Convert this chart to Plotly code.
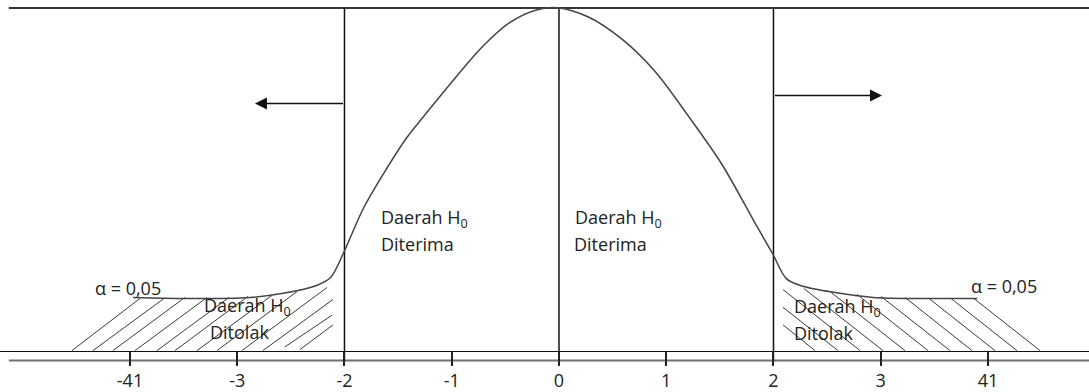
import plotly.graph_objects as go

# tick positions and their printed labels
tick_vals = [-4, -3, -2, -1, 0, 1, 2, 3, 4]
tick_text = ["-41", "-3", "-2", "-1", "0", "1", "2", "3", "41"]

# hand-drawn bell curve (peak = 1)
curve_x = [-3.97, -3.47, -2.88, -2.57, -2.26, -2.13, -2.01, -1.83, -1.64, -1.42,
           -1.20, -0.95, -0.71, -0.46, -0.21, 0.0, 0.27, 0.59, 0.90, 1.20,
           1.52, 1.83, 1.99, 2.12, 2.25, 2.56, 2.93, 3.39, 3.90]
curve_y = [0.155, 0.152, 0.155, 0.167, 0.190, 0.213, 0.284, 0.411, 0.514, 0.621,
           0.707, 0.802, 0.888, 0.957, 0.994, 1.0, 0.974, 0.908, 0.813, 0.687,
           0.543, 0.371, 0.284, 0.210, 0.190, 0.170, 0.155, 0.152, 0.152]

# critical values / centre
boundary_x = [-2, 0, 2]
top_y = 1.0
bottom_y = -0.032

# hatching of the rejection areas (start / end of each stroke)
hatch_left_x0 = [-4.541, -4.345, -4.159, -3.953, -3.748, -3.580, -3.375, -3.189,
                 -2.956, -2.760, -2.555, -2.415]
hatch_left_y0 = [0, 0, 0, 0, 0, 0, 0, 0, 0, 0, 0.011, 0.003]
hatch_left_x1 = [-3.907, -3.683, -3.487, -3.282, -3.077, -2.900, -2.676, -2.443,
                 -2.163, -2.107, -2.117, -2.107]
hatch_left_y1 = [0.152, 0.152, 0.155, 0.155, 0.155, 0.158, 0.161, 0.172,
                 0.184, 0.149, 0.103, 0.075]

hatch_right_x0 = [4.485, 4.270, 4.065, 3.851, 3.646, 3.441, 3.226, 3.021,
                  2.807, 2.601, 2.387]
hatch_right_y0 = [0, 0, 0, 0, 0, 0, 0, 0, 0, 0, 0]
hatch_right_x1 = [3.869, 3.655, 3.450, 3.226, 3.002, 2.779, 2.536, 2.284,
                  2.089, 2.089, 2.089]
hatch_right_y1 = [0.152, 0.152, 0.152, 0.155, 0.158, 0.164, 0.170, 0.181,
                  0.178, 0.126, 0.075]

# text labels
label_text = ["Daerah H<sub>0</sub>", "Diterima", "Daerah H<sub>0</sub>", "Diterima",
              "Daerah H<sub>0</sub>", "Ditolak", "Daerah H<sub>0</sub>", "Ditolak",
              "\u03b1 = 0,05", "\u03b1 = 0,05"]
label_x = [-1.678, -1.678, 0.131, 0.122, -3.329, -3.273, 2.172, 2.172, -4.345, 3.823]
label_y = [0.385, 0.310, 0.385, 0.310, 0.128, 0.054, 0.125, 0.051, 0.184, 0.187]

# direction arrows (start at critical line, tip outward)
arrow_x0 = [-2, 2]
arrow_x1 = [-2.835, 3.012]
arrow_y = [0.721, 0.744]

FONT = "Open Sans, Noto Sans, sans-serif"
INK = "#222222"


def segments(x0, y0, x1, y1):
    xs, ys = [], []
    for a, b, c, d in zip(x0, y0, x1, y1):
        xs += [a, c, None]
        ys += [b, d, None]
    return xs, ys


fig = go.Figure()

# hatching
for x0, y0, x1, y1 in [
    (hatch_left_x0, hatch_left_y0, hatch_left_x1, hatch_left_y1),
    (hatch_right_x0, hatch_right_y0, hatch_right_x1, hatch_right_y1),
]:
    hx, hy = segments(x0, y0, x1, y1)
    fig.add_trace(go.Scatter(x=hx, y=hy, mode="lines",
                             line=dict(color="#3a3a3a", width=1),
                             hoverinfo="skip"))

# second (gray) base line and top border line
fig.add_trace(go.Scatter(x=[-5.13, 5.0], y=[-0.0287, -0.0287], mode="lines",
                         line=dict(color="#707070", width=2), hoverinfo="skip"))
fig.add_trace(go.Scatter(x=[-5.13, 5.0], y=[top_y, top_y], mode="lines",
                         line=dict(color="#383838", width=2), hoverinfo="skip"))

# vertical lines at -2, 0, 2
vx, vy = segments(boundary_x, [top_y] * 3, boundary_x, [bottom_y] * 3)
fig.add_trace(go.Scatter(x=vx, y=vy, mode="lines",
                         line=dict(color="#111111", width=1.5), hoverinfo="skip"))

# the curve
fig.add_trace(go.Scatter(x=curve_x, y=curve_y, mode="lines",
                         line=dict(color="#444444", width=1.5, shape="spline",
                                   smoothing=0.9),
                         hoverinfo="skip"))

for t, x, y in zip(label_text, label_x, label_y):
    fig.add_annotation(x=x, y=y, text=t, showarrow=False, xanchor="left",
                       yanchor="middle", font=dict(family=FONT, size=18, color=INK))

for x0, x1, y in zip(arrow_x0, arrow_x1, arrow_y):
    fig.add_annotation(x=x1, y=y, ax=x0, ay=y, axref="x", ayref="y", text="",
                       showarrow=True, arrowhead=2, arrowsize=1.6, arrowwidth=1.5,
                       arrowcolor="#111111", standoff=0, startstandoff=0)

fig.update_layout(
    width=1089,
    height=392,
    margin=dict(l=0, r=0, t=0, b=0),
    paper_bgcolor="white",
    plot_bgcolor="white",
    showlegend=False,
    xaxis=dict(
        range=[-5.212, 4.942],
        anchor="free",
        position=36 / 392,
        tickmode="array",
        tickvals=tick_vals,
        ticktext=tick_text,
        ticks="outside",
        ticklen=14,
        tickwidth=1.5,
        tickcolor="#222222",
        showline=True,
        linecolor="#111111",
        linewidth=1,
        showgrid=False,
        zeroline=False,
        tickfont=dict(family=FONT, size=18, color=INK),
        fixedrange=True,
    ),
    yaxis=dict(
        range=[-0.1034, 1.023],
        visible=False,
        showgrid=False,
        zeroline=False,
        fixedrange=True,
    ),
)

# the page's default 8px body margin would shift the figure
fig.write_html("out.html", config={"displayModeBar": False},
               post_script="document.body.style.margin='0';")
